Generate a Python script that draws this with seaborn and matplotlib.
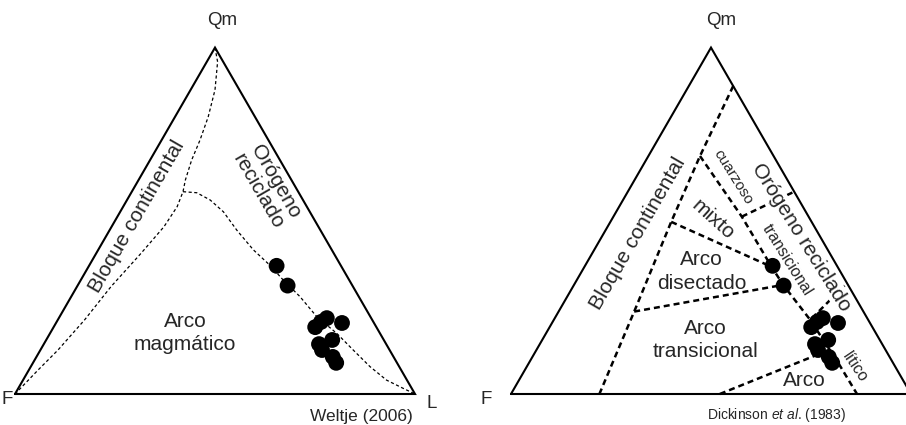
import numpy as np
import pandas as pd
import seaborn as sns
import matplotlib.pyplot as plt

# sample compositions (%): Qm, F, L
sample_qm = [37.0, 31.3, 19.3, 20.8, 21.9, 20.5, 14.4, 12.7, 15.6, 10.7, 9.0]
sample_f = [16.1, 16.2, 15.3, 13.1, 11.1, 8.0, 16.8, 16.9, 12.9, 15.2, 15.2]
sample_l = [46.9, 52.5, 65.4, 66.1, 67.0, 71.5, 68.8, 70.4, 71.5, 74.1, 75.8]

# Weltje (2006) field boundaries, as (Qm, L) in %
weltje_cont_qm = [0, 6.9, 12.7, 21.4, 31.0, 40.6, 48.3, 54.1, 58.4, 61.8, 67.5, 73.3, 80.0, 87.8, 95.9, 100]
weltje_cont_l = [0, 2.3, 4.4, 6.7, 8.5, 11.2, 13.1, 13.5, 12.8, 11.7, 10.4, 9.6, 8.3, 6.1, 2.7, 0]
weltje_arc_qm = [58.4, 58.1, 56.0, 52.6, 47.3, 41.6, 37.2, 32.9, 28.1, 22.3, 17.5, 12.7, 7.9, 4.0, 1.6, 0]
weltje_arc_l = [12.8, 16.4, 20.8, 25.8, 31.8, 38.8, 45.1, 50.6, 57.2, 64.3, 71.7, 78.2, 84.8, 90.9, 96.3, 100]

# Dickinson et al. (1983) field boundaries, as (Qm, L) in %
dick_cont_qm = [88.9, 68.7, 49.7, 23.8, 0]
dick_cont_l = [11.1, 12.9, 15.2, 18.9, 22.1]
dick_main_qm = [68.7, 51.2, 36.7, 31.5, 21.4, 8.9, 0]
dick_main_l = [12.9, 32.1, 46.8, 52.3, 64.1, 77.4, 86.5]
dick_quartz_qm = [51.2, 58.4]
dick_quartz_l = [32.1, 41.6]
dick_lith_qm = [21.9, 32.0]
dick_lith_l = [64.3, 68.0]
dick_mixed_qm = [49.7, 36.7]
dick_mixed_l = [15.2, 46.8]
dick_dissect_qm = [23.8, 31.5]
dick_dissect_l = [18.9, 52.3]
dick_trans_qm = [0, 12.0]
dick_trans_l = [52.2, 72.0]

frame_qm = [0, 0, 100, 0]
frame_l = [0, 100, 0, 0]


def to_xy(qm, l):
    qm = np.asarray(qm, dtype=float)
    l = np.asarray(l, dtype=float)
    return l + qm / 2, qm * np.sqrt(3) / 2


def boundary_frame(segments):
    parts = []
    for i, (qm, l) in enumerate(segments):
        x, y = to_xy(qm, l)
        parts.append(pd.DataFrame({'x': x, 'y': y, 'seg': i}))
    return pd.concat(parts, ignore_index=True)


def draw_frame(ax):
    x, y = to_xy(frame_qm, frame_l)
    ax.plot(x, y, color='black', lw=1.5, zorder=5, solid_joinstyle='miter')


def draw_samples(ax):
    x, y = to_xy(sample_qm, sample_l)
    sns.scatterplot(x=x, y=y, color='black', s=130, edgecolor='none', ax=ax, zorder=6)


sns.set_style('white')
plt.rcParams['font.family'] = ['Liberation Sans', 'DejaVu Sans']
plt.rcParams['mathtext.fontset'] = 'custom'
plt.rcParams['mathtext.rm'] = 'Liberation Sans'
plt.rcParams['mathtext.it'] = 'Liberation Sans:italic'

fig = plt.figure(figsize=(9.06, 4.25), dpi=100)
ax1 = fig.add_axes([0, 0, 0.5, 1])
ax2 = fig.add_axes([0.5, 0, 0.5, 1])

# ---- left: Weltje (2006)
weltje = boundary_frame([(weltje_cont_qm, weltje_cont_l), (weltje_arc_qm, weltje_arc_l)])
sns.lineplot(data=weltje, x='x', y='y', units='seg', estimator=None, sort=False,
             color='black', lw=0.9, linestyle=(0, (2.5, 2)), ax=ax1)
draw_frame(ax1)
draw_samples(ax1)

fs = 15
ax1.text(51.75, 93.5, 'Qm', fontsize=13.5, ha='center', va='center')
ax1.text(-3.5, -1.5, 'F', fontsize=13.5, ha='left', va='center')
ax1.text(104.2, -2.3, 'L', fontsize=13.5, ha='center', va='center')
ax1.text(86.7, -5.5, 'Weltje (2006)', fontsize=12.5, ha='center', va='center')
ax1.text(30.4, 44.3, 'Bloque continental', fontsize=fs, rotation=60,
         ha='center', va='center', rotation_mode='anchor')
ax1.text(62.9, 51.8, 'Orógeno\nreciclado', fontsize=fs, rotation=-60,
         ha='center', va='center', rotation_mode='anchor', linespacing=1.05)
ax1.text(42.5, 15.25, 'Arco\nmagmático', fontsize=fs, ha='center', va='center', linespacing=1.3)

# ---- right: Dickinson et al. (1983)
dick = boundary_frame([
    (dick_cont_qm, dick_cont_l), (dick_main_qm, dick_main_l),
    (dick_quartz_qm, dick_quartz_l), (dick_lith_qm, dick_lith_l),
    (dick_mixed_qm, dick_mixed_l), (dick_dissect_qm, dick_dissect_l),
    (dick_trans_qm, dick_trans_l),
])
sns.lineplot(data=dick, x='x', y='y', units='seg', estimator=None, sort=False,
             color='black', lw=1.8, linestyle=(0, (2.4, 1.6)), ax=ax2)
draw_frame(ax2)
draw_samples(ax2)

ax2.text(52.6, 93.5, 'Qm', fontsize=13.5, ha='center', va='center')
ax2.text(-6.2, -1.5, 'F', fontsize=13.5, ha='center', va='center')
ax2.text(66.3, -5.3, r'Dickinson $\it{et}$ $\it{al}$. (1983)', fontsize=10,
         ha='center', va='center')
ax2.text(31.75, 40.2, 'Bloque continental', fontsize=fs, rotation=60,
         ha='center', va='center', rotation_mode='anchor')
ax2.text(72.6, 39.3, 'Orógeno reciclado', fontsize=fs, rotation=-58,
         ha='center', va='center', rotation_mode='anchor', zorder=4,
         bbox=dict(facecolor='white', edgecolor='none', pad=0.5))
ax2.text(55.5, 54.3, 'cuarzoso', fontsize=11, rotation=-58,
         ha='center', va='center', rotation_mode='anchor')
ax2.text(69.1, 33.5, 'transicional', fontsize=11.5, rotation=-58,
         ha='center', va='center', rotation_mode='anchor')
ax2.text(50.5, 43.5, 'mixto', fontsize=fs, rotation=-42,
         ha='center', va='center', rotation_mode='anchor')
ax2.text(47.6, 30.6, 'Arco\ndisectado', fontsize=fs, ha='center', va='center', linespacing=1.3)
ax2.text(48.6, 13.5, 'Arco\ntransicional', fontsize=fs, ha='center', va='center', linespacing=1.3)
ax2.text(73.4, 3.5, 'Arco', fontsize=fs, ha='center', va='center')
ax2.text(85.9, 6.8, 'lítico', fontsize=11.5, rotation=-56,
         ha='center', va='center', rotation_mode='anchor')

ax1.set_xlim(-3.75, 109.5)
ax2.set_xlim(-14.5, 98.75)
for ax in (ax1, ax2):
    ax.set_ylim(-7.75, 98.5)
    ax.set_axis_off()

fig.savefig('out.png', dpi=100)
